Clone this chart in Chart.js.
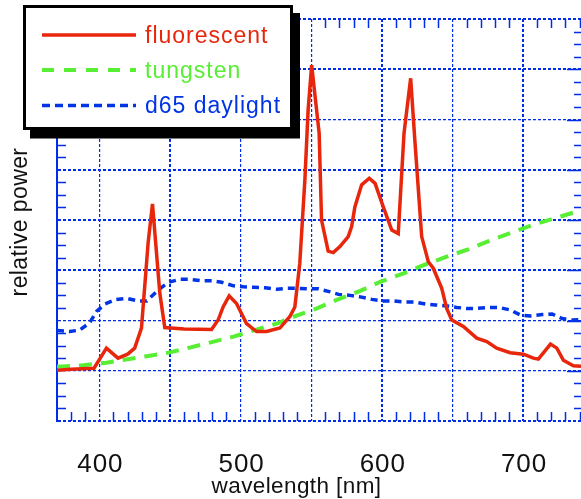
<!DOCTYPE html>
<html>
<head>
<meta charset="utf-8">
<script src="https://cdn.jsdelivr.net/npm/chart.js@4.4.1/dist/chart.umd.min.js"></script>
<style>
  html, body { margin: 0; padding: 0; background: #fff; }
  #wrap { width: 581px; height: 499px; position: relative; }
</style>
</head>
<body>
<div id="wrap"><canvas id="c" width="581" height="499"></canvas></div>
<script>
// ---- data ----
const seriesLabels = ["fluorescent", "tungsten", "d65 daylight"];

const fluorWl = [370, 380, 396.2, 405, 413.2, 420, 425, 429.8, 434.5, 437.6, 442.8, 446.3, 460, 479.4,
  484.1, 487.6, 491.9, 497.1, 504.2, 511.3, 518.4, 527.8, 534.9, 538.4, 541.9, 545.5, 547.8, 550.3,
  555.6, 557.3, 562, 565.6, 570.3, 576.2, 578.6, 580.9, 585.7, 591.1, 595.2, 601, 607, 611.6, 615.7,
  620.4, 623.5, 628.2, 632.9, 636.4, 642.4, 645.9, 649.5, 657.7, 667.2, 674.3, 681.3, 690.8, 700.2,
  707.3, 710.8, 719.4, 723.9, 728.5, 735.6, 741];
const fluorVal = [1.01, 1.03, 1.05, 1.45, 1.25, 1.33, 1.45, 1.85, 3.54, 4.32, 2.54, 1.86, 1.83, 1.82,
  2.01, 2.27, 2.49, 2.34, 1.94, 1.78, 1.78, 1.85, 2.08, 2.27, 3.14, 4.8, 6.19, 7.08,
  5.73, 4.0, 3.38, 3.35, 3.47, 3.67, 3.87, 4.26, 4.70, 4.83, 4.73, 4.26, 3.80, 3.73, 5.73,
  6.82, 5.53, 3.67, 3.17, 3.04, 2.64, 2.24, 2.01, 1.88, 1.65, 1.58, 1.45, 1.36, 1.33,
  1.25, 1.23, 1.53, 1.45, 1.21, 1.10, 1.09];

const tungWl = [370, 388.7, 405, 433.6, 449, 464, 479.6, 495, 510, 525.7, 540, 554, 568, 584.7, 598.9,
  615.4, 629.6, 645, 661.5, 675.6, 691, 706.4, 721.7, 738.3, 741];
const tungVal = [1.08, 1.11, 1.16, 1.29, 1.36, 1.46, 1.57, 1.68, 1.81, 1.94, 2.10, 2.24, 2.41, 2.59, 2.77,
  2.94, 3.10, 3.26, 3.42, 3.58, 3.74, 3.90, 4.03, 4.17, 4.19];

const d65Wl = [370, 379, 386, 393, 398, 404, 412, 419.4, 427.6, 433.6, 441.8, 449, 457, 464, 472.6, 479.6,
  486.7, 495, 502, 509, 517.4, 525.7, 532.8, 540, 548, 555, 563.5, 569.4, 577.6, 584.7, 593, 600, 608,
  615.4, 622.5, 630.8, 637.9, 646, 653, 660, 667.4, 675.6, 682.7, 691, 698, 705, 713.5, 720.5, 727.6,
  734.7, 741];
const d65Val = [1.80, 1.78, 1.81, 1.95, 2.18, 2.33, 2.42, 2.44, 2.39, 2.39, 2.61, 2.76, 2.82, 2.82, 2.79, 2.79,
  2.76, 2.69, 2.67, 2.66, 2.65, 2.62, 2.64, 2.64, 2.63, 2.63, 2.57, 2.52, 2.50, 2.47, 2.42, 2.39, 2.39,
  2.37, 2.37, 2.33, 2.31, 2.29, 2.26, 2.24, 2.24, 2.26, 2.26, 2.21, 2.11, 2.09, 2.12, 2.13, 2.04,
  2.01, 2.02];

const xTickLabels = [400, 500, 600, 700];
const xGridValues = [400, 450, 500, 550, 600, 650, 700];
const yGridValues = [0, 1, 2, 3, 4, 5, 6, 7, 8];

// ---- styling ----
const RED = "rgb(232,38,12)";
const GREEN = "rgb(88,238,52)";
const BLUE = "rgb(0,52,228)";
const GRID = "rgb(0,45,232)";
const FONT = "'Liberation Sans', Arial, Helvetica, sans-serif";

const toPts = (xs, ys) => xs.map((x, i) => ({ x: x, y: ys[i] }));

const thickX = [450, 600, 700];
const thickY = [0, 3, 4, 5, 7, 8];

const decorPlugin = {
  id: "decor",
  beforeDatasetsDraw(chart) {
    const { ctx, chartArea: a, scales: { x, y } } = chart;
    ctx.save();
    ctx.strokeStyle = GRID;
    ctx.lineWidth = 1.5;
    ctx.beginPath();
    for (let v = 380; v <= 740; v += 10) {
      if (v % 50 === 0) continue;
      const px = Math.round(x.getPixelForValue(v)) + 0.5;
      ctx.moveTo(px, a.bottom); ctx.lineTo(px, a.bottom - 9);
      ctx.moveTo(px, a.top); ctx.lineTo(px, a.top + 9);
    }
    for (let k = 1; k < 32; k++) {
      const v = k * 0.25;
      const py = Math.round(y.getPixelForValue(v)) + 0.5;
      if (k % 4 === 0) {
        ctx.moveTo(a.right, py); ctx.lineTo(a.right - 14, py);
        continue;
      }
      ctx.moveTo(a.left, py); ctx.lineTo(a.left + 9, py);
      ctx.moveTo(a.right, py); ctx.lineTo(a.right - 7, py);
    }
    ctx.stroke();
    ctx.restore();
  },
  afterDraw(chart) {
    const { ctx, scales: { x } } = chart;
    ctx.save();
    // x tick labels
    ctx.fillStyle = "#111";
    ctx.font = "26px " + FONT;
    ctx.textAlign = "center";
    ctx.textBaseline = "alphabetic";
    try { ctx.letterSpacing = "1px"; } catch (e) {}
    xTickLabels.forEach(v => ctx.fillText(String(v), x.getPixelForValue(v) + 1, 471.5));
    // axis titles
    ctx.font = "22.5px " + FONT;
    try { ctx.letterSpacing = "0.4px"; } catch (e) {}
    ctx.fillText("wavelength [nm]", 296.5, 493);
    ctx.save();
    ctx.translate(26.5, 222);
    ctx.rotate(-Math.PI / 2);
    ctx.font = "23px " + FONT;
    ctx.fillText("relative power", 0, 0);
    ctx.restore();

    // legend box with shadow
    ctx.fillStyle = "#000";
    ctx.fillRect(30, 13, 270, 125.5);
    ctx.fillStyle = "#fff";
    ctx.fillRect(23, 5, 270, 125);
    ctx.strokeStyle = "#000";
    ctx.lineWidth = 3;
    ctx.strokeRect(24.5, 6.5, 267, 122);

    const rows = [35, 70, 105.5];
    chart.data.datasets.forEach((ds, i) => {
      const yy = rows[i];
      ctx.save();
      ctx.strokeStyle = ds.borderColor;
      ctx.lineWidth = ds.borderWidth;
      ctx.setLineDash(ds.legendDash || []);
      ctx.beginPath();
      ctx.moveTo(42, yy); ctx.lineTo(136, yy);
      ctx.stroke();
      ctx.restore();
      ctx.fillStyle = ds.textColor;
      ctx.font = "23px " + FONT;
      ctx.textAlign = "left";
      try { ctx.letterSpacing = "1px"; } catch (e) {}
      ctx.fillText(ds.label, 145, yy + 7.5);
    });
    ctx.restore();
  }
};

new Chart(document.getElementById("c"), {
  type: "line",
  data: {
    datasets: [
      { label: seriesLabels[0], data: toPts(fluorWl, fluorVal), borderColor: RED, textColor: RED,
        borderWidth: 3.5, pointRadius: 0, tension: 0, legendDash: [] },
      { label: seriesLabels[1], data: toPts(tungWl, tungVal), borderColor: GREEN, textColor: GREEN,
        borderWidth: 4, borderDash: [13, 9], pointRadius: 0, tension: 0, legendDash: [12, 10] },
      { label: seriesLabels[2], data: toPts(d65Wl, d65Val), borderColor: BLUE, textColor: BLUE,
        borderWidth: 3.5, borderDash: [7, 5], pointRadius: 0, tension: 0, legendDash: [8, 5] }
    ]
  },
  options: {
    responsive: false,
    animation: false,
    devicePixelRatio: 1,
    layout: { padding: { left: 57, top: 19, right: 0, bottom: 78 } },
    plugins: { legend: { display: false }, tooltip: { enabled: false } },
    scales: {
      x: {
        type: "linear", min: 370, max: 741,
        afterBuildTicks: s => { s.ticks = xGridValues.map(v => ({ value: v })); },
        afterFit: s => { s.height = 0; },
        ticks: { display: false },
        grid: { color: GRID, drawTicks: false,
          lineWidth: c => (c.tick && thickX.includes(c.tick.value)) ? 2 : 1.2 },
        border: { display: false, dash: [3, 2] }
      },
      y: {
        type: "linear", min: 0, max: 8,
        afterBuildTicks: s => { s.ticks = yGridValues.map(v => ({ value: v })); },
        afterFit: s => { s.width = 0; },
        ticks: { display: false },
        grid: { color: GRID, drawTicks: false,
          lineWidth: c => (c.tick && thickY.includes(c.tick.value)) ? 2 : 1.2 },
        border: { display: true, color: GRID, width: 2, dash: [3, 2] }
      }
    }
  },
  plugins: [decorPlugin]
});
</script>
</body>
</html>
